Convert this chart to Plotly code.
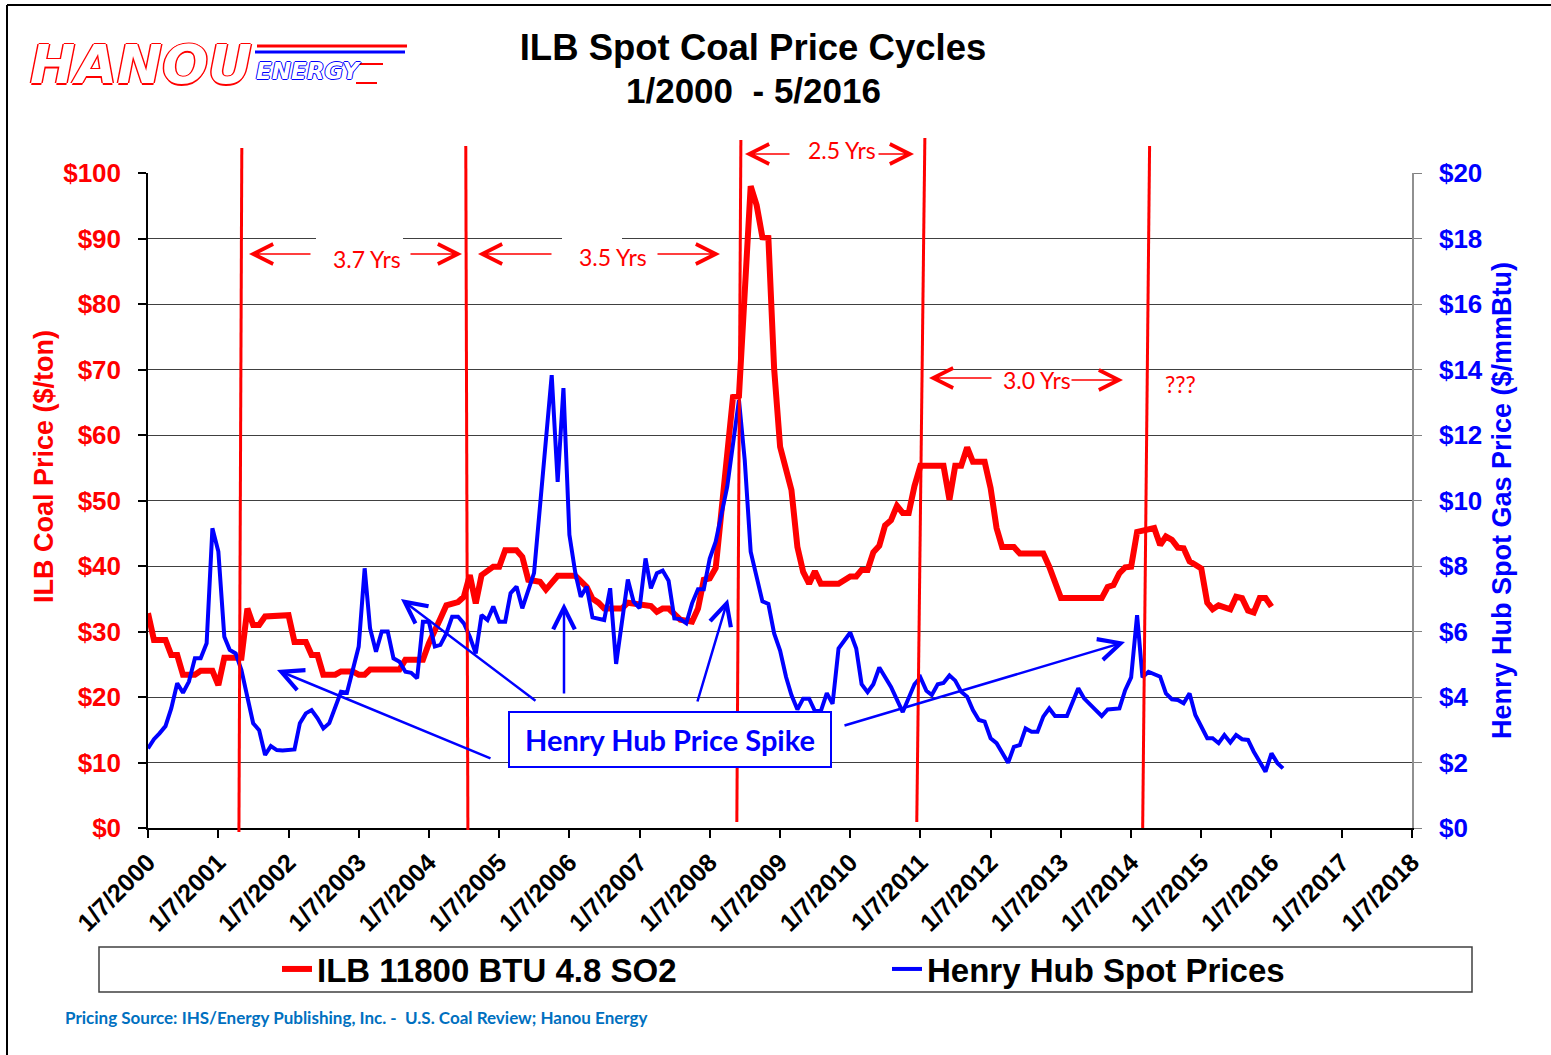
import plotly.graph_objects as go

# ---------------- data ----------------
coal_months = [
    "2000-01", "2000-02", "2000-04", "2000-05", "2000-06", "2000-07", "2000-09", "2000-10", "2000-12",
    "2001-01", "2001-02", "2001-05", "2001-06", "2001-07", "2001-08", "2001-09",
    "2002-01", "2002-02", "2002-04", "2002-05", "2002-06", "2002-07", "2002-09", "2002-10", "2002-12",
    "2003-01", "2003-02", "2003-03", "2003-08", "2003-09", "2003-12",
    "2004-01", "2004-03", "2004-04", "2004-06", "2004-07", "2004-08", "2004-09", "2004-10", "2004-12",
    "2005-01", "2005-02", "2005-04", "2005-05", "2005-06", "2005-08", "2005-09", "2005-11",
    "2006-02", "2006-03", "2006-04", "2006-05", "2006-06", "2006-07", "2006-10", "2006-11",
    "2007-03", "2007-04", "2007-05", "2007-06", "2007-08", "2007-10", "2007-11", "2007-12",
    "2008-01", "2008-02", "2008-03", "2008-05", "2008-06", "2008-08", "2008-09", "2008-10", "2008-11", "2008-12",
    "2009-01", "2009-03", "2009-04", "2009-05", "2009-06", "2009-07", "2009-08", "2009-11",
    "2010-01", "2010-02", "2010-03", "2010-04", "2010-05", "2010-06", "2010-07", "2010-08", "2010-09",
    "2010-10", "2010-11", "2010-12",
    "2011-01", "2011-05", "2011-06", "2011-07", "2011-08", "2011-09", "2011-10", "2011-12",
    "2012-01", "2012-02", "2012-03", "2012-05", "2012-06", "2012-10", "2012-11",
    "2013-01", "2013-08", "2013-09", "2013-10", "2013-11", "2013-12",
    "2014-01", "2014-02", "2014-04", "2014-05", "2014-06", "2014-07", "2014-08", "2014-09", "2014-10",
    "2014-11", "2014-12",
    "2015-01", "2015-02", "2015-03", "2015-04", "2015-06", "2015-07", "2015-08", "2015-09", "2015-10",
    "2015-11", "2015-12",
    "2016-01",
]
coal_price = [
    32.8, 28.7, 28.7, 26.4, 26.4, 23.4, 23.4, 24.0, 24.0,
    21.8, 26.0, 26.0, 33.5, 31.0, 31.0, 32.3,
    32.5, 28.4, 28.4, 26.4, 26.4, 23.4, 23.4, 23.9, 23.9,
    23.4, 23.4, 24.2, 24.2, 25.7, 25.7,
    28.2, 32.0, 34.0, 34.5, 35.3, 38.6, 34.3, 38.6, 39.9,
    39.9, 42.4, 42.4, 41.4, 37.9, 37.6, 36.4, 38.5,
    38.5, 37.6, 36.8, 35.0, 34.4, 33.5, 33.5, 34.4,
    33.9, 33.0, 33.5, 33.5, 31.8, 31.5, 33.5, 37.9,
    38.1, 39.7, 47.5, 65.8, 66.0, 98.0, 95.1, 90.2, 90.1, 70.1,
    58.2, 51.6, 42.9, 39.1, 37.3, 39.2, 37.3, 37.3,
    38.4, 38.4, 39.4, 39.4, 42.1, 43.1, 46.2, 47.0, 49.2,
    48.1, 48.1, 52.2,
    55.3, 55.3, 50.1, 55.3, 55.3, 58.1, 55.9, 55.9,
    51.9, 45.8, 42.9, 42.9, 41.9, 41.9, 39.9,
    35.1, 35.1, 36.8, 37.1, 38.9, 39.8,
    39.9, 45.2, 45.5, 45.8, 43.2, 44.5, 44.0, 42.8, 42.7,
    40.7, 40.2,
    39.6, 34.4, 33.4, 34.0, 33.4, 35.3, 35.1, 33.2, 32.9,
    35.1, 35.1,
    33.8,
]

gas_months = [
    "2000-01", "2000-02", "2000-03", "2000-04", "2000-05", "2000-06", "2000-07", "2000-08", "2000-09",
    "2000-10", "2000-11", "2000-12",
    "2001-01", "2001-02", "2001-03", "2001-04", "2001-05", "2001-06", "2001-07", "2001-08", "2001-09",
    "2001-10", "2001-11", "2001-12",
    "2002-01", "2002-02", "2002-03", "2002-04", "2002-05", "2002-06", "2002-07", "2002-08", "2002-10",
    "2002-11",
    "2003-01", "2003-02", "2003-03", "2003-04", "2003-05", "2003-06", "2003-07", "2003-08", "2003-09",
    "2003-10", "2003-11", "2003-12",
    "2004-01", "2004-02", "2004-03", "2004-04", "2004-05", "2004-06", "2004-07", "2004-08", "2004-09",
    "2004-10", "2004-11", "2004-12",
    "2005-01", "2005-02", "2005-03", "2005-04", "2005-05", "2005-07", "2005-10", "2005-11", "2005-12",
    "2006-01", "2006-02", "2006-03", "2006-04", "2006-05", "2006-07", "2006-08", "2006-09", "2006-11",
    "2006-12",
    "2007-01", "2007-02", "2007-03", "2007-04", "2007-05", "2007-06", "2007-07", "2007-08", "2007-09",
    "2007-10", "2007-11", "2007-12",
    "2008-01", "2008-02", "2008-03", "2008-04", "2008-06", "2008-07", "2008-08", "2008-09", "2008-10",
    "2008-11", "2008-12",
    "2009-01", "2009-02", "2009-03", "2009-04", "2009-05", "2009-06", "2009-07", "2009-08", "2009-09",
    "2009-10", "2009-11",
    "2010-01", "2010-02", "2010-03", "2010-04", "2010-05", "2010-06", "2010-07", "2010-08", "2010-10",
    "2010-11", "2010-12",
    "2011-01", "2011-02", "2011-03", "2011-04", "2011-05", "2011-06", "2011-07", "2011-08", "2011-09",
    "2011-10", "2011-11", "2011-12",
    "2012-01", "2012-02", "2012-04", "2012-05", "2012-06", "2012-07", "2012-08", "2012-09", "2012-10",
    "2012-11", "2012-12",
    "2013-02", "2013-04", "2013-05", "2013-07", "2013-08", "2013-09", "2013-11", "2013-12",
    "2014-01", "2014-02", "2014-03", "2014-04", "2014-06", "2014-07", "2014-08", "2014-09", "2014-10",
    "2014-11", "2014-12",
    "2015-02", "2015-03", "2015-04", "2015-05", "2015-06", "2015-07", "2015-08", "2015-09", "2015-10",
    "2015-12",
    "2016-01", "2016-02", "2016-03",
]
gas_price = [
    2.43, 2.71, 2.89, 3.11, 3.65, 4.42, 4.13, 4.47, 5.18,
    5.18, 5.64, 9.15,
    8.44, 5.84, 5.44, 5.33, 4.82, 4.01, 3.20, 2.99, 2.23,
    2.50, 2.38, 2.37,
    2.38, 2.40, 3.20, 3.50, 3.60, 3.35, 3.04, 3.20, 4.16,
    4.13,
    5.54, 7.93, 6.10, 5.38, 6.00, 6.00, 5.18, 5.08, 4.77,
    4.74, 4.57, 6.30,
    6.30, 5.54, 5.59, 5.94, 6.45, 6.45, 6.25, 5.84, 5.33,
    6.50, 6.35, 6.76,
    6.30, 6.30, 7.17, 7.37, 6.71, 7.78, 13.83, 10.57, 13.43,
    8.95, 7.78, 7.06, 7.37, 6.43, 6.35, 7.32, 5.01, 7.59,
    6.91,
    6.71, 8.23, 7.32, 7.78, 7.86, 7.55, 6.40, 6.38, 6.25,
    6.86, 7.29, 7.29,
    8.23, 8.74, 9.61, 10.42, 13.07, 11.24, 8.44, 7.66, 6.92,
    6.84, 5.94,
    5.42, 4.61, 4.06, 3.62, 3.95, 3.95, 3.57, 3.57, 4.12,
    3.79, 5.48,
    5.97, 5.48, 4.39, 4.15, 4.39, 4.90, 4.61, 4.31, 3.54,
    3.95, 4.39,
    4.60, 4.19, 4.06, 4.39, 4.43, 4.66, 4.50, 4.16, 4.01,
    3.60, 3.30, 3.25,
    2.74, 2.59, 1.99, 2.48, 2.53, 3.04, 2.94, 2.94, 3.40,
    3.65, 3.42,
    3.42, 4.27, 3.96, 3.60, 3.42, 3.62, 3.65, 4.21,
    4.60, 6.50, 4.60, 4.77, 4.62, 4.11, 3.93, 3.91, 3.81,
    4.11, 3.45,
    2.74, 2.74, 2.59, 2.84, 2.61, 2.84, 2.71, 2.69, 2.33,
    1.72,
    2.28, 1.98, 1.82,
]

tick_dates = ["%d-01-07" % yr for yr in range(2000, 2019)]
tick_labels = ["1/7/%d" % yr for yr in range(2000, 2019)]

# cycle marker lines (hand-drawn in the original, slightly slanted): top date, bottom date
cycle_top = ["2001-05-09", "2004-07-17", "2008-06-17", "2011-01-30", "2014-04-13"]
cycle_bottom = ["2001-04-24", "2004-07-28", "2008-05-27", "2010-12-19", "2014-03-08"]
cycle_top_y = [148, 146, 140, 138, 146]      # pixel rows of the ends
cycle_bottom_y = [832, 830, 822, 822, 828]

series_names = ["ILB 11800 BTU 4.8 SO2", "Henry Hub Spot Prices"]

# ---------------- layout helpers ----------------
W, H = 1551, 1055
L, R, T, B = 148, 1412, 173, 828


def px(x):
    return (x - L) / (R - L)


def py(y):
    return (B - y) / (B - T)


RED = "#FF0000"
BLUE = "#0000FF"
ARIAL = "Liberation Sans, Arial, sans-serif"
CALIBRI = "Lato, Carlito, Calibri, sans-serif"

fig = go.Figure()
fig.add_trace(go.Scatter(
    x=[m + "-07" for m in coal_months], y=coal_price, name=series_names[0],
    mode="lines", line=dict(color=RED, width=6), yaxis="y"))
fig.add_trace(go.Scatter(
    x=[m + "-07" for m in gas_months], y=gas_price, name=series_names[1],
    mode="lines", line=dict(color=BLUE, width=4), yaxis="y2"))

shapes = []
# cycle lines
for t, b, ty, by in zip(cycle_top, cycle_bottom, cycle_top_y, cycle_bottom_y):
    shapes.append(dict(type="line", xref="x", yref="paper", x0=t, y0=py(ty), x1=b, y1=py(by),
                       line=dict(color=RED, width=3), layer="above"))
# white boxes behind the labels (break the gridlines)
for x0, x1, yc in [(316, 403, 239), (562, 622, 239), (791, 874, 173)]:
    shapes.append(dict(type="rect", xref="paper", yref="paper", x0=px(x0), x1=px(x1),
                       y0=py(yc + 4), y1=py(yc - 4), fillcolor="white", line=dict(width=0), layer="above"))
# legend frame
shapes.append(dict(type="rect", xref="paper", yref="paper", x0=px(99), x1=px(1472), y0=py(992), y1=py(947),
                   line=dict(color="#404040", width=1.5), fillcolor="rgba(0,0,0,0)"))
# outer frame (top and left visible)
shapes.append(dict(type="line", xref="paper", yref="paper", x0=px(7), x1=px(1551), y0=py(5), y1=py(5),
                   line=dict(color="black", width=2)))
shapes.append(dict(type="line", xref="paper", yref="paper", x0=px(7), x1=px(7), y0=py(5), y1=py(1055),
                   line=dict(color="black", width=2)))
# logo stripes
for (x0, x1, yy, col, w) in [(257, 407, 46, RED, 3), (255, 405, 52, BLUE, 3),
                             (358, 383, 64, RED, 2), (356, 377, 83, RED, 2)]:
    shapes.append(dict(type="line", xref="paper", yref="paper", x0=px(x0), x1=px(x1), y0=py(yy), y1=py(yy),
                       line=dict(color=col, width=w)))

ann = []
# red cycle arrows: (tip_x, tip_y, tail_x, tail_y)
for tx, ty, sx, sy in [(249, 254, 312, 254), (462, 254, 409, 254),
                       (478, 254, 553, 254), (720, 254, 656, 254),
                       (745, 154, 791, 154), (914, 154, 877, 154),
                       (929, 378, 993, 378), (1123, 380, 1070, 380)]:
    ann.append(dict(xref="paper", yref="paper", x=px(tx), y=py(ty), ax=sx - tx, ay=sy - ty, text="",
                    showarrow=True, arrowhead=5, arrowsize=2.6, arrowwidth=1.5, arrowcolor=RED, standoff=0))
for txt, cx, cy in [("3.7 Yrs", 367, 259), ("3.5 Yrs", 613, 257), ("2.5 Yrs", 842, 150),
                    ("3.0 Yrs", 1037, 380), ("???", 1180, 384)]:
    ann.append(dict(xref="paper", yref="paper", x=px(cx), y=py(cy), text=txt, showarrow=False,
                    xanchor="center", yanchor="middle", font=dict(family=CALIBRI, size=23, color=RED)))
# blue arrows pointing to gas spikes
for tx, ty, sx, sy in [(277, 670, 492, 759), (401, 599, 537, 702), (564, 603, 564, 695),
                       (728, 599, 697, 703), (1125, 642, 843, 726)]:
    ann.append(dict(xref="paper", yref="paper", x=px(tx), y=py(ty), ax=sx - tx, ay=sy - ty, text="",
                    showarrow=True, arrowhead=5, arrowsize=1.7, arrowwidth=2.5, arrowcolor=BLUE, standoff=0))
ann.append(dict(xref="paper", yref="paper", x=px(669.5), y=py(739.7), text="<b>Henry Hub Price Spike</b>",
                showarrow=False, xanchor="center", yanchor="middle", width=320, height=53,
                bordercolor=BLUE, borderwidth=2, borderpad=0, bgcolor="white",
                font=dict(family=CALIBRI, size=29, color=BLUE)))
# left axis title (sits above centre in the original)
ann.append(dict(xref="paper", yref="paper", x=px(44), y=py(467), xanchor="center", yanchor="middle",
                showarrow=False, textangle=-90, text="ILB Coal Price ($/ton)",
                font=dict(family=ARIAL, size=27, color=RED, weight="bold")))
# title second line
ann.append(dict(xref="paper", yref="paper", x=px(753), y=py(90), xanchor="center", yanchor="middle",
                showarrow=False, text="1/2000  - 5/2016",
                font=dict(family=ARIAL, size=35, color="black", weight="bold")))
# footer
ann.append(dict(xref="paper", yref="paper", x=px(63), y=py(1017), xanchor="left", yanchor="middle",
                showarrow=False, text="<b>Pricing Source: IHS/Energy Publishing, Inc. -  U.S. Coal Review; Hanou Energy</b>",
                font=dict(family=CALIBRI, size=17, color="#0070C0")))
# logo
ann.append(dict(xref="paper", yref="paper", x=px(28), y=py(64), xanchor="left", yanchor="middle",
                showarrow=False, text="<i>HANOU</i>",
                font=dict(family="DejaVu Sans", size=54, color="white", weight="bold",
                          shadow="1.5px 0 0 #f00, -1.5px 0 0 #f00, 0 1.5px 0 #f00, 0 -1.5px 0 #f00")))
ann.append(dict(xref="paper", yref="paper", x=px(254), y=py(71), xanchor="left", yanchor="middle",
                showarrow=False, text="<i>ENERGY</i>",
                font=dict(family="DejaVu Sans", size=23, color="white", weight="bold",
                          shadow="1px 0 0 #00f, -1px 0 0 #00f, 0 1px 0 #00f, 0 -1px 0 #00f")))

fig.update_layout(
    width=W, height=H,
    margin=dict(l=L, r=W - R, t=T, b=H - B, autoexpand=False),
    paper_bgcolor="white", plot_bgcolor="white",
    title=dict(text="ILB Spot Coal Price Cycles", x=753 / W, xanchor="center",
               xref="container", yref="container", y=1 - 47 / H, yanchor="middle",
               font=dict(family=ARIAL, size=36.5, color="black", weight="bold")),
    xaxis=dict(type="date", range=[tick_dates[0], tick_dates[-1]], tickvals=tick_dates, ticktext=tick_labels,
               tickangle=-45, ticks="outside", ticklen=8, tickcolor="black", tickwidth=1.5,
               showline=True, linecolor="black", linewidth=1.5, showgrid=False, zeroline=False,
               tickfont=dict(family=ARIAL, size=25, color="black", weight="bold")),
    yaxis=dict(range=[0, 100], dtick=10, tickprefix="$", ticks="outside", ticklen=8, tickcolor="black",
               tickwidth=1.5, showline=True, linecolor="black", linewidth=1.5,
               showgrid=True, gridcolor="#404040", gridwidth=1.3, zeroline=False,
               tickfont=dict(family=ARIAL, size=26, color=RED, weight="bold"), ticklabelstandoff=12),
    yaxis2=dict(range=[0, 20], dtick=2, tickprefix="$", overlaying="y", side="right", ticks="outside",
                ticklen=8, tickcolor="#808080", showline=True, linecolor="#909090", linewidth=1.5,
                showgrid=False, zeroline=False, ticklabelstandoff=12,
                tickfont=dict(family=ARIAL, size=26, color=BLUE, weight="bold"),
                title=dict(text="Henry Hub Spot Gas Price ($/mmBtu)", standoff=10,
                           font=dict(family=ARIAL, size=27, color=BLUE, weight="bold"))),
    showlegend=True,
    legend=dict(orientation="h", x=px(277), xanchor="left", y=py(969), yanchor="middle",
                entrywidth=565, entrywidthmode="pixels", bgcolor="rgba(0,0,0,0)", borderwidth=0,
                font=dict(family=ARIAL, size=33, color="black", weight="bold")),
    shapes=shapes, annotations=ann,
)

fig.write_html("out.html", config={"displayModeBar": False},
               post_script="document.body.style.margin='0';")
